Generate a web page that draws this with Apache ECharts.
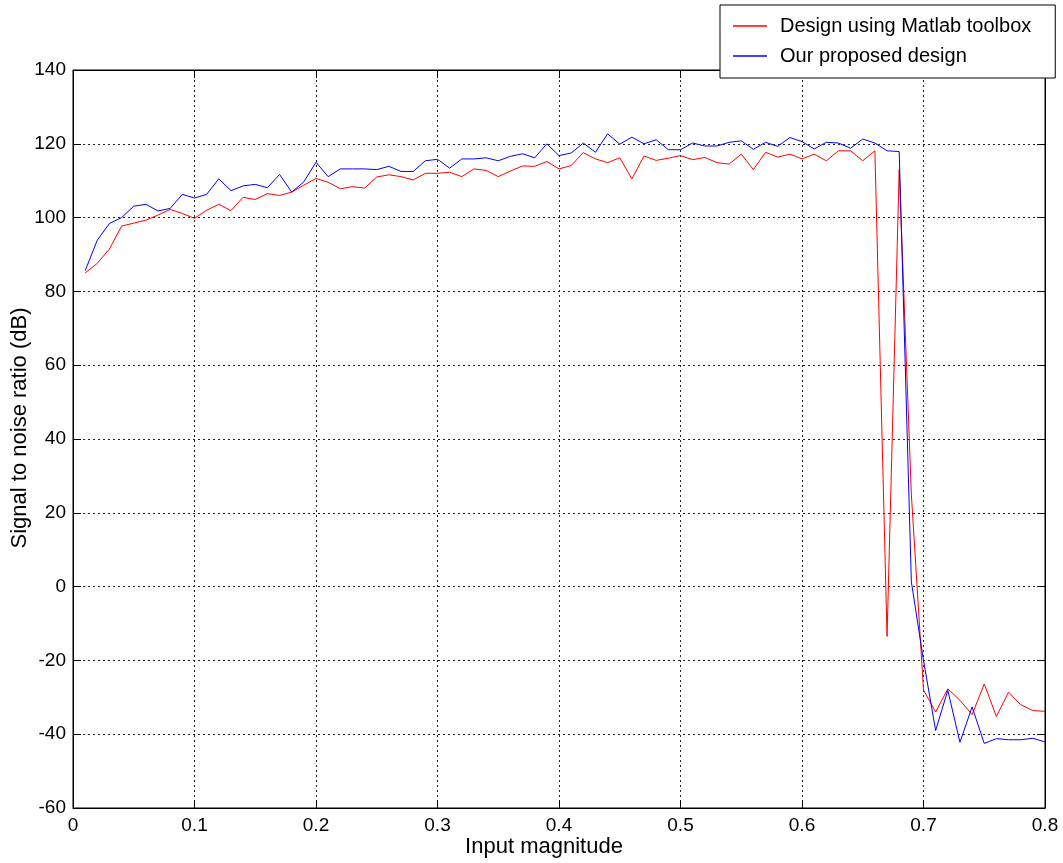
<!DOCTYPE html>
<html>
<head>
<meta charset="utf-8">
<script src="https://cdn.jsdelivr.net/npm/echarts@6/dist/echarts.min.js"></script>
<style>
html,body{margin:0;padding:0;background:#fff;}
#chart{width:1063px;height:863px;}
</style>
</head>
<body>
<div id="chart"></div>
<script>
const inputMagnitude = [0.01,0.02,0.03,0.04,0.05,0.06,0.07,0.08,0.09,0.10,
  0.11,0.12,0.13,0.14,0.15,0.16,0.17,0.18,0.19,0.20,
  0.21,0.22,0.23,0.24,0.25,0.26,0.27,0.28,0.29,0.30,
  0.31,0.32,0.33,0.34,0.35,0.36,0.37,0.38,0.39,0.40,
  0.41,0.42,0.43,0.44,0.45,0.46,0.47,0.48,0.49,0.50,
  0.51,0.52,0.53,0.54,0.55,0.56,0.57,0.58,0.59,0.60,
  0.61,0.62,0.63,0.64,0.65,0.66,0.67,0.68,0.69,0.70,
  0.71,0.72,0.73,0.74,0.75,0.76,0.77,0.78,0.79,0.80];

const matlabSNR = [85.0,87.6,91.5,97.7,98.5,99.3,100.7,102.2,101.1,99.8,
  102.0,103.6,101.9,105.5,104.9,106.5,106.0,106.9,108.8,110.6,
  109.6,107.8,108.4,108.0,111.0,111.6,111.1,110.2,112.0,112.0,
  112.3,111.1,113.2,112.8,111.1,112.6,114.0,113.9,115.2,113.2,
  114.1,117.6,115.9,114.9,116.2,110.5,116.7,115.5,116.1,116.8,
  115.7,116.3,114.9,114.5,117.2,113.0,117.7,116.4,117.2,115.9,
  117.2,115.4,118.1,118.1,115.4,118.1,-13.5,113.0,25.0,-28.0,
  -34.0,-27.7,-30.8,-34.7,-26.4,-35.2,-28.6,-32.0,-33.6,-33.8];

const proposedSNR = [85.6,93.9,98.4,100.0,103.1,103.6,101.8,102.5,106.3,105.3,
  106.3,110.5,107.3,108.6,109.0,108.1,111.7,106.9,109.7,115.0,
  111.1,113.2,113.2,113.2,113.0,113.9,112.5,112.5,115.4,115.8,
  113.4,115.9,115.9,116.2,115.4,116.6,117.3,116.2,120.0,116.8,
  117.5,120.2,117.7,122.7,119.9,121.8,120.0,121.1,118.4,118.4,
  120.2,119.4,119.4,120.4,120.8,118.5,120.4,119.3,121.7,120.6,
  118.6,120.4,120.2,118.8,121.3,120.2,118.1,117.9,1.3,-20.0,
  -39.0,-28.1,-42.2,-32.6,-42.5,-41.2,-41.5,-41.5,-41.1,-42.1];

const seriesNames = ['Design using Matlab toolbox', 'Our proposed design'];
const xTicks = [0,0.1,0.2,0.3,0.4,0.5,0.6,0.7,0.8];
const yTicks = [-60,-40,-20,0,20,40,60,80,100,120,140];

const FONT = "'Liberation Sans', Arial, Helvetica, sans-serif";
const chart = echarts.init(document.getElementById('chart'), null, {renderer:'canvas'});

function pairs(ys){ return inputMagnitude.map((x,i)=>[x, ys[i]]); }

const gridLine = {show:true, lineStyle:{color:'#222', width:1, type:[2,3]}};
const axLine = {show:true, onZero:false, lineStyle:{color:'#000', width:1}};
const tick = {show:true, inside:true, length:8, lineStyle:{color:'#000'}};

chart.setOption({
  animation:false,
  backgroundColor:'#fff',
  grid:{left:73, right:18, top:70, bottom:55, containLabel:false, outerBoundsMode:'none',
        show:true, borderColor:'#000', borderWidth:1, backgroundColor:'#fff'},
  legend:{
    data:seriesNames,
    orient:'vertical',
    left:720, top:5,
    backgroundColor:'#fff',
    borderColor:'#000', borderWidth:1,
    padding:[11,24,12,13],
    itemGap:10,
    icon:'rect',
    itemWidth:34, itemHeight:1.5,
    textStyle:{fontFamily:FONT, fontSize:20, lineHeight:20, color:'#000', padding:[0,0,0,8]},
    z:10
  },
  xAxis:[{
    type:'value', min:0, max:0.8, interval:0.1, position:'bottom',
    name:'Input magnitude', nameLocation:'middle', nameGap:28, nameMoveOverlap:false,
    nameTextStyle:{fontFamily:FONT, fontSize:22, color:'#000', padding:[0,30,0,0]},
    axisLine:axLine, axisTick:tick, splitLine:gridLine,
    axisLabel:{fontFamily:FONT, fontSize:19, color:'#000', margin:8, formatter:v=>String(+v.toFixed(1))}
  },{
    type:'value', min:0, max:0.8, interval:0.1, position:'top',
    axisLine:axLine, axisTick:tick, splitLine:{show:false}, axisLabel:{show:false}
  }],
  yAxis:[{
    type:'value', min:-60, max:140, interval:20, position:'left',
    name:'Signal to noise ratio (dB)', nameLocation:'middle', nameGap:42, nameMoveOverlap:false,
    nameTextStyle:{fontFamily:FONT, fontSize:22, color:'#000', padding:[0,0,0,22]},
    axisLine:axLine, axisTick:tick, splitLine:gridLine,
    axisLabel:{fontFamily:FONT, fontSize:19, color:'#000', margin:7}
  },{
    type:'value', min:-60, max:140, interval:20, position:'right',
    axisLine:axLine, axisTick:tick, splitLine:{show:false}, axisLabel:{show:false}
  }],
  series:[{
    name:seriesNames[0], type:'line', data:pairs(matlabSNR),
    symbol:'none', lineStyle:{color:'#ff0000', width:1}, itemStyle:{color:'#ff0000'}, z:3
  },{
    name:seriesNames[1], type:'line', data:pairs(proposedSNR),
    symbol:'none', lineStyle:{color:'#0000ff', width:1}, itemStyle:{color:'#0000ff'}, z:4
  }]
});
</script>
</body>
</html>
